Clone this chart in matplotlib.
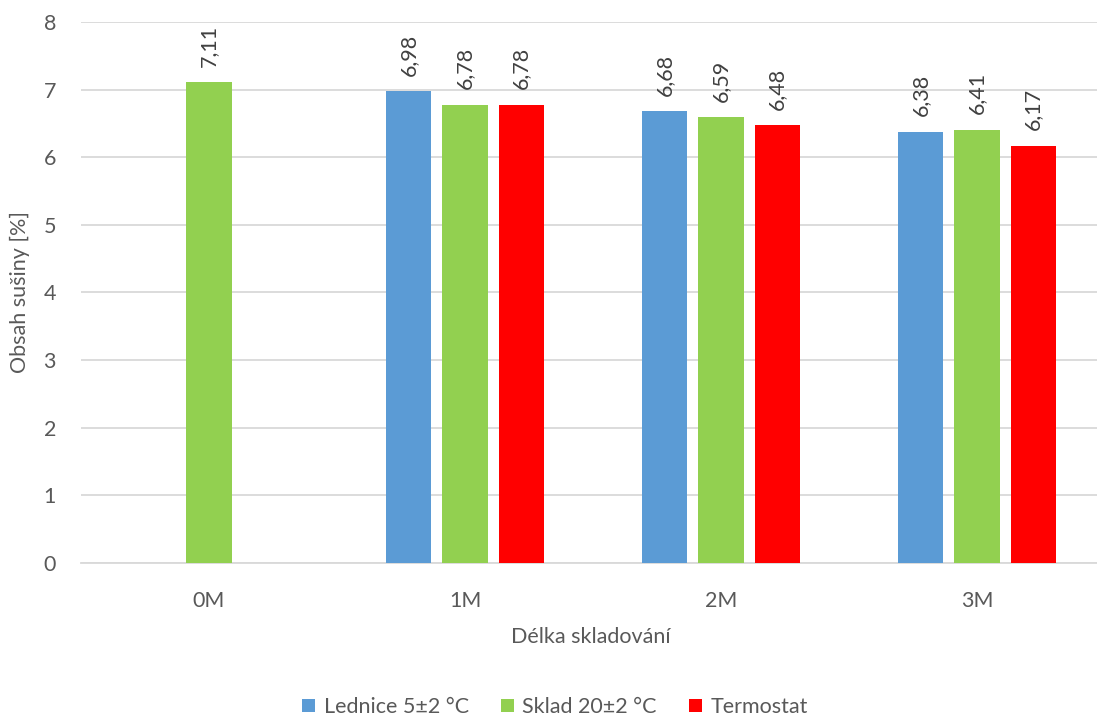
import numpy as np
import matplotlib.pyplot as plt

# Dry matter content after storage, per storage condition
months = ['0M', '1M', '2M', '3M']
lednice = [np.nan, 6.98, 6.68, 6.38]
sklad = [7.11, 6.78, 6.59, 6.41]
termostat = [np.nan, 6.78, 6.48, 6.17]

series_names = ['Lednice 5±2 °C', 'Sklad 20±2 °C', 'Termostat']
colors = ['#5B9BD5', '#92D050', '#FF0000']

text_color = '#595959'
grid_color = '#D9D9D9'

plt.rcParams['font.family'] = ['Lato', 'DejaVu Sans']

fig = plt.figure(figsize=(10.97, 7.15), dpi=100)
ax = fig.add_axes([81 / 1097, 152 / 715, 1020 / 1097, 541 / 715])

x = np.arange(len(months))
width = 0.176
stride = 0.22

for i, (vals, name, col) in enumerate(zip([lednice, sklad, termostat],
                                          series_names, colors)):
    xs = x + (i - 1) * stride
    ax.bar(xs, vals, width=width, color=col, label=name, zorder=3)
    for xx, v in zip(xs, vals):
        if np.isnan(v):
            continue
        ax.annotate(('%.2f' % v).replace('.', ','), (xx, v),
                    xytext=(0, 11), textcoords='offset points',
                    rotation=90, ha='center', va='bottom',
                    fontsize=15.5, color='#404040')

ax.set_xlim(-0.5, (1097 - 81) / 255 - 0.5)
ax.set_ylim(0, 8)
ax.set_yticks(range(0, 9))
ax.set_xticks(x)
ax.set_xticklabels(months)

ax.yaxis.grid(True, color=grid_color, linewidth=1.3, zorder=0)
ax.set_axisbelow(True)
for side in ['top', 'right', 'left']:
    ax.spines[side].set_visible(False)
ax.spines['bottom'].set_color(grid_color)
ax.spines['bottom'].set_linewidth(1.3)

ax.tick_params(axis='both', length=0, labelsize=15.5, colors=text_color)
ax.tick_params(axis='x', pad=20)
ax.tick_params(axis='y', pad=18)

ax.set_xlabel('Délka skladování', fontsize=15.5, color=text_color,
              labelpad=12)
ax.set_ylabel('Obsah sušiny [%]', fontsize=15.5, color=text_color,
              labelpad=10)

fig.legend(loc='lower center', bbox_to_anchor=(0.506, -0.03), ncol=3,
           frameon=False, fontsize=15.5, handlelength=0.6, handleheight=0.6,
           handletextpad=0.4, columnspacing=1.5, labelcolor=text_color)

fig.savefig('out.png', dpi=100)
